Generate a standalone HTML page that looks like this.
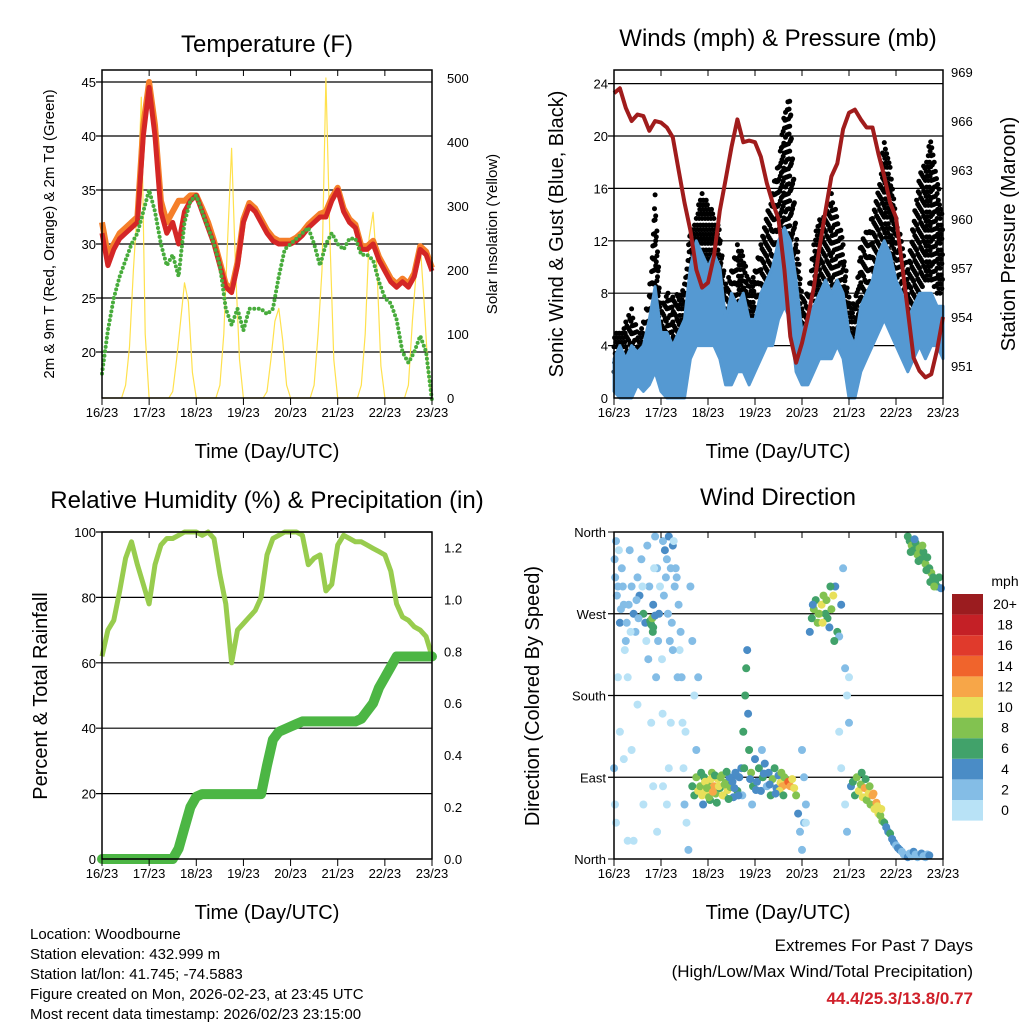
<!DOCTYPE html>
<html><head><meta charset="utf-8">
<style>
html,body{margin:0;padding:0;background:#fff;}
svg{display:block;font-family:"Liberation Sans",sans-serif;}
</style></head>
<body>
<svg id="chart" width="1024" height="1024" viewBox="0 0 1024 1024" xmlns="http://www.w3.org/2000/svg">
<rect width="1024" height="1024" fill="#fff"/>
<text x="267" y="52" font-size="24" text-anchor="middle">Temperature (F)</text>
<text x="778" y="46" font-size="24" text-anchor="middle">Winds (mph) &amp; Pressure (mb)</text>
<text x="267" y="508" font-size="24" text-anchor="middle">Relative Humidity (%) &amp; Precipitation (in)</text>
<text x="778" y="505" font-size="24" text-anchor="middle">Wind Direction</text>
<text x="267" y="458" font-size="20" text-anchor="middle">Time (Day/UTC)</text>
<text x="778" y="458" font-size="20" text-anchor="middle">Time (Day/UTC)</text>
<text x="267" y="919" font-size="20" text-anchor="middle">Time (Day/UTC)</text>
<text x="778" y="919" font-size="20" text-anchor="middle">Time (Day/UTC)</text>
<text transform="translate(54,234) rotate(-90)" font-size="15" text-anchor="middle">2m &amp; 9m T (Red, Orange) &amp; 2m Td (Green)</text>
<text transform="translate(497,234) rotate(-90)" font-size="15" text-anchor="middle">Solar Insolation (Yellow)</text>
<text transform="translate(563,234) rotate(-90)" font-size="20" text-anchor="middle">Sonic Wind &amp; Gust (Blue, Black)</text>
<text transform="translate(1015,234) rotate(-90)" font-size="20" text-anchor="middle">Station Pressure (Maroon)</text>
<text transform="translate(47,696) rotate(-90)" font-size="20" text-anchor="middle">Percent &amp; Total Rainfall</text>
<text transform="translate(539,696) rotate(-90)" font-size="20" text-anchor="middle">Direction (Colored By Speed)</text>
<g font-size="15">
<text x="30" y="939">Location: Woodbourne</text>
<text x="30" y="959">Station elevation: 432.999 m</text>
<text x="30" y="979">Station lat/lon: 41.745; -74.5883</text>
<text x="30" y="999">Figure created on Mon, 2026-02-23, at 23:45 UTC</text>
<text x="30" y="1019">Most recent data timestamp: 2026/02/23 23:15:00</text>
</g>
<text x="973" y="951" font-size="17" text-anchor="end">Extremes For Past 7 Days</text>
<text x="973" y="977" font-size="17" text-anchor="end">(High/Low/Max Wind/Total Precipitation)</text>
<text x="973" y="1004" font-size="17" font-weight="bold" fill="#d0202a" text-anchor="end">44.4/25.3/13.8/0.77</text>
<g id="layer"></g>
</svg>
<script>
const dayLabels=["16/23","17/23","18/23","19/23","20/23","21/23","22/23","23/23"];
const tempRed=[31,28,29.5,30.5,31,31.5,32,40, 44.5,40,33,31,32,30,33,34, 34.5,33,31.5,30,28,26,25.5,28, 32,33.5,33,32,31,30.3,30,30, 30,30.3,30.8,31.5,32,32.5,32.5,34, 35,33,32,31.5,29.5,29.5,30,28.5, 27.5,26.5,26,26.5,26,27,29.5,29, 27.5];
const tempOrange=[32,29,30,31,31.5,32,32.5,41, 45,41,34,32,33,34,34,34.5, 34.5,33.3,32,30.3,28.3,26.3,25.8,28.3, 32.3,33.8,33.3,32.3,31.3,30.6,30.3,30.3, 30.3,30.6,31.1,31.8,32.3,32.8,33,34.3, 35.2,33.3,32.3,31.8,29.8,29.8,30.3,28.8, 27.8,26.8,26.3,26.8,26.3,27.3,29.8,29.3, 27.8];
const dewGreen=[18,22,25,27,28.5,30,31,33, 35,33,30,28,29,27,32,34, 34.5,33,31.5,30,28,24,22.5,24, 22,24,24,24,23.5,24,27,29.5, 30,30.5,31,31.5,30,28,30,31, 30,29.5,30.5,30.5,29,29,28.5,26.5, 25,24.5,23,20,19,20,21.5,20, 15.5];
const solar=[0,0,0,0,0,0,20,80,200,300,470,100, 0,0,0,0,0,0,10,60,120,180,150,40, 0,0,0,0,0,0,20,100,250,390,200,60, 0,0,0,0,0,0,10,60,120,140,90,20, 0,0,0,0,0,0,20,100,200,500,250,60, 0,0,0,0,0,0,20,100,250,290,200,50, 0,0,0,0,0,0,20,120,200,240,150,40, 0];
const windLow=[0.5,0,0,0,1,0.5,1,2, 0.5,0,0,0,0,3,4,4, 4,4,3,1,1,2,2,1, 2,3,4,4,6,7,6,2, 1,1,2,3,3,3,4,3, 0,0,2,3,4,5,6,5, 4,3,2,3,4,3,4,4, 3];
const windHigh=[3,4,3,4,3.5,4,6,8.5, 5,5,4,5,6,10,12,11, 10,11,10,6,8,7,8,6, 6,8,9,10,12,13,12,9, 5,6,7,8,9,8,9,8, 5,4,7,8,9,11,12,11, 9,8,6,7,8,8,8,7, 7];
const gustLow=[2,2,2,3,2,2,4,6, 2,3,2,3,3,8,8,8, 8,8,8,3,4,6,6,4, 4,6,7,8,10,13,12,6, 3,4,6,6,7,8,7,6, 2,2,5,6,8,9,10,10, 8,7,6,7,8,9,9,8, 8];
const gustHigh=[5,5,6,7,5,6,8,16, 7,8,8,8,9,13,14,16, 15,14,13,9,10,12,11,9, 10,12,14,16,18,22,23,13, 8,8,12,14,14,16,14,12, 8,7,12,13,14,16,20,18, 14,12,10,14,17,18,20,17, 14];
const pressure=[967.7,968,966.8,966,966.4,966.3,965.4,966, 965.9,965.6,965,963,961,959.3,956.9,955.8, 956.1,957.7,960.5,962.4,964.4,966.1,964.7,964.8, 964.7,963.8,962.2,961,960,956.9,952.8,951.2, 952.4,954,955.8,958.3,960.5,962.6,963.4,965.5, 966.5,966.7,966.1,965.6,965.6,964,962.6,961, 960.1,957.3,954.4,951.5,950.7,950.3,950.5,952, 954];
const humidity=[62,70,73,82,92,97,90,84, 78,90,96,98,98,99,100,100, 100,99,100,98,87,78,60,70, 72,74,76,80,93,98,99,100, 100,100,99,90,92,93,82,84, 96,99,98,97,97,96,95,94, 93,88,78,74,73,71,70,68, 62];
const precip=[0,0,0,0,0,0,0,0, 0,0,0,0,0,0.04,0.12,0.2, 0.24,0.25,0.25,0.25,0.25,0.25,0.25,0.25, 0.25,0.25,0.25,0.25,0.36,0.46,0.49,0.5, 0.51,0.52,0.53,0.53,0.53,0.53,0.53,0.53, 0.53,0.53,0.53,0.53,0.54,0.57,0.6,0.66, 0.7,0.74,0.78,0.78,0.78,0.78,0.78,0.78, 0.78];
const dirHour=[1,2,3,4,5,6,7,8,9,10,11,12,13,14,15,16,17,18,19,20,21,22,23,0,1,2,0.5,9,10, 18.5,19,19.5,20,21,19.8,
25,26,27,28,29,30,31,32,33,34,34.5,35,35.5,36,24.5,24.8,25,37,38,39,40,41,42,43,
40,41,42,43,44,45,46,47,48,49,50,51,52,53,54,55,56,57,58,59,60,61,62,63,44.5,45.5,46.5,47.5,48.5,49.5,50.5,51.5,52.5,53.5,54.5,55.5,56.5,57.5,58.5,59.5,
64,65,66,67,67.5,68,68.5,69,70,71,72,73,74,75,76,77,78,79,80,81,82,83,84,85,86,87,84.5,85.5,86.5,65.5,70.5,75.5,
88,89,90,91,92,93,94,95,96,97,98,
100,101,102,103,104,105,106,107,108,109,110,111,112,113,114,115,116,117,118,119,120,104.5,106.5,108.5,110.5,112.5,101.5,
121,122,123,124,125,126,127,128,129,130,131,132,133,134,135,136,137,138,139,140,141,142,143,144,145,126.5,128.5,130.5,132.5,134.5,136.5,
146,147,148,149,150,151,152,153,154,155,156,157,158,159,160,161,
150,151,152,153,154,155,156,157,158,159,160,161,162,163,164,165,166,167,151.5,153.5,155.5,157.5,159.5,161.5,163.5,
0.3,0.6,1.5,2.5,3.5,4.5,5.5,6.5,7.5,8.5,11.5,12.5,14.5,16.5,17.5,20.5,22.5,23.5,21.5,25.5,26.5,27.5,28.5,29.5,30.5,31.5,32.5,33.5,36.5,30,29,28,27,3,5,7,12,15,20,22,
96,97,98,115,116,118,119,120,60.5,61.5,62.5,63.5,66.5,69.5,72.5,76.5,79.5,82.5];
const dirDeg=[350,300,260,320,280,240,200,340,300,270,250,310,290,330,270,260,345,300,150,280,355,320,270,100,40,200,60,120,20, 262,258,265,255,268,250,
350,340,330,355,320,345,300,310,280,250,200,150,100,60,220,160,80,40,10,300,240,180,120,200,
80,70,90,75,80,70,90,75,85,65,95,80,72,88,78,92,70,84,76,90,82,68,95,75,95,60,85,78,68,88,74,92,62,80,90,70,82,96,66,79,
90,100,140,180,210,230,160,120,95,80,110,85,100,75,90,105,80,95,70,88,100,78,92,84,80,90,75,95,70,70,60,120,
82,85,80,88,78,70,50,30,10,40,60,
250,265,275,285,260,270,280,290,270,265,255,275,290,300,250,245,280,320,210,180,150,270,260,285,300,240,280,
80,85,70,90,75,82,68,78,65,72,60,70,55,62,50,48,42,40,35,30,28,22,18,15,12,95,88,80,72,58,55,
10,8,5,4,2,6,3,8,5,2,4,6,3,2,5,4,
355,350,345,340,348,335,342,330,338,325,332,320,315,310,305,300,310,298,338,352,328,345,318,305,300,
330,310,290,340,275,300,230,260,280,250,285,265,300,240,220,320,240,300,200,290,310,270,240,260,350,320,200,230,140,230,150,100,60,140,110,20,170,60,80,30,
120,90,40,140,100,60,30,200,85,78,92,70,100,88,76,94,82,72];
const dirSpd=[2,3,4,2,3,2,1,3,2,4,3,2,5,3,6,4,3,2,1,4,2,3,5,2,1,1,0,1,1, 7,6,8,6,5,6,
3,4,3,5,2,4,3,2,3,2,2,1,1,2,1,1,1,1,2,3,2,1,2,3,
6,7,8,10,8,10,7,11,9,6,8,12,9,10,7,8,6,9,11,5,7,4,5,6,6,5,11,9,8,10,12,7,6,11,9,10,8,6,7,9,
4,5,6,7,6,4,5,7,8,6,5,4,6,5,7,4,3,5,6,8,7,4,5,10,12,9,11,8,6,3,3,3,
12,14,13,11,10,8,4,3,2,3,2,
5,7,8,6,9,10,11,8,7,6,4,9,10,5,6,3,4,2,2,1,2,9,10,8,6,7,5,
5,6,7,8,10,9,11,12,8,10,9,13,11,12,10,9,8,6,5,4,6,4,5,3,4,6,7,9,12,11,10,
4,3,2,3,4,3,2,4,3,2,3,4,3,2,3,4,
6,7,8,6,7,9,8,7,6,8,7,6,8,7,6,7,6,5,6,5,7,9,6,7,8,
3,3,2,1,3,2,1,3,2,1,3,2,1,1,2,1,2,1,2,3,2,2,3,2,1,2,2,1,1,2,1,1,1,1,1,1,1,1,1,1,
2,2,1,1,1,1,2,1,4,5,4,5,7,5,4,5,4,5];
const speedBins=["0","2","4","6","8","10","12","14","16","18","20+"];
const speedColors=["#b8e2f6","#84bde6","#4a8cc6","#41a26a","#82c250","#e8e05a","#f7a648","#f0642c","#e03a2c","#c42026","#9b1c1f"];

const NS="http://www.w3.org/2000/svg";
const layer=document.getElementById('layer');
function mk(tag,attrs,parent){const e=document.createElementNS(NS,tag);for(const k in attrs)e.setAttribute(k,attrs[k]);(parent||layer).appendChild(e);return e;}
function txt(x,y,s,size,anchor,parent){const t=mk('text',{x:x,y:y,'font-size':size,'text-anchor':anchor},parent);t.textContent=s;return t;}
function pathFrom(vals,fx,fy){return vals.map((v,i)=>(i?'L':'M')+fx(i).toFixed(1)+' '+fy(v).toFixed(1)).join(' ');}
function bandFrom(lo,hi,fx,fy){let d=lo.map((v,i)=>(i?'L':'M')+fx(i).toFixed(1)+' '+fy(v).toFixed(1)).join(' ');for(let i=hi.length-1;i>=0;i--)d+=' L'+fx(i).toFixed(1)+' '+fy(hi[i]).toFixed(1);return d+' Z';}

const P1={x0:102,x1:432,y0:70,y1:398};
const P2={x0:614,x1:943,y0:70,y1:398};
const P3={x0:102,x1:432,y0:532,y1:859};
const P4={x0:614,x1:943,y0:532,y1:859};
const hx=(P,h)=>P.x0+h/168*(P.x1-P.x0);

function xAxis(P,name){
  const g=mk('g',{});
  
  
  dayLabels.forEach((s,i)=>{
    const x=hx(P,i*24);
    const tk=mk('line',{x1:x,x2:x,y1:P.y1,y2:P.y1+7,stroke:'#000','stroke-width':1},g);
    
    
    const tt=mk('line',{x1:x,x2:x,y1:P.y0,y2:P.y0+6,stroke:'#000','stroke-width':1},g);
    
    
    const t=txt(x,P.y1+19,s,13,'middle',g);
    
    
  });
}
function frame(P,name){
  const r=mk('rect',{x:P.x0,y:P.y0,width:P.x1-P.x0,height:P.y1-P.y0,fill:'none',stroke:'#000','stroke-width':1.5});
  
  
}
function grid(P,ys){ys.forEach(y=>{const l=mk('line',{x1:P.x0-6,x2:P.x1,y1:y,y2:y,stroke:'#000','stroke-width':1.2});
  
  });}
function yLabels(x,ys,labels,anchor,name){ys.forEach((y,i)=>{const t=txt(x,y+5,labels[i],13,anchor);
  
  });}

// Panel 1
const yT=v=>352-(v-20)*10.8, ySol=v=>398-v*0.64;
const tTicks=[20,25,30,35,40,45], sTicks=[0,100,200,300,400,500];
grid(P1,tTicks.map(yT));
const x3=(P)=>i=>hx(P,i*3), x2=(P)=>i=>hx(P,i*2);
let e=mk('path',{d:pathFrom(solar,x2(P1),ySol),fill:'none',stroke:'#ffe14d','stroke-width':1.2,'stroke-linejoin':'round'});


e=mk('path',{d:pathFrom(tempOrange,x3(P1),yT),fill:'none',stroke:'#f57f2a','stroke-width':6,'stroke-linejoin':'round'});


e=mk('path',{d:pathFrom(tempRed,x3(P1),yT),fill:'none',stroke:'#d42626','stroke-width':5,'stroke-linejoin':'round'});


e=mk('path',{d:pathFrom(dewGreen,x3(P1),yT),fill:'none',stroke:'#48ac3c','stroke-width':4,'stroke-dasharray':'0 4.5','stroke-linecap':'round','stroke-linejoin':'round'});


frame(P1,'temperature-plot-frame');
xAxis(P1,'temperature-x-axis');
yLabels(P1.x0-6,tTicks.map(yT),tTicks.map(String),'end','temp-y-tick-label');
yLabels(P1.x1+15,sTicks.map(ySol),sTicks.map(String),'start','solar-y-tick-label');

// Panel 2
const yW=v=>398-v*13.1, yP=p=>72+(969-p)*49/3;
const wTicks=[0,4,8,12,16,20,24], pTicks=[951,954,957,960,963,966,969];
grid(P2,wTicks.slice(1).map(yW));
const gg=mk('g',{fill:'#000'});


gustLow.forEach((lo,i)=>{
  if(i===gustLow.length-1)return;
  for(let k=0;k<10;k++){
    const f=k/10;
    const l=lo+(gustLow[i+1]-lo)*f, h=gustHigh[i]+(gustHigh[i+1]-gustHigh[i])*f;
    const x=hx(P2,(i+f)*3);
    for(let v=l+((k*7)%5)*0.35,j=0;v<=h;v+=1.9,j++){
      const c=mk('circle',{cx:x.toFixed(1),cy:yW(v).toFixed(1),r:2.5},gg);
      
      
    }
  }
});
e=mk('path',{d:bandFrom(windLow,windHigh,x3(P2),yW),fill:'#5599d2',stroke:'#5599d2','stroke-width':3,'stroke-linejoin':'round'});


e=mk('path',{d:pathFrom(pressure,x3(P2),yP),fill:'none',stroke:'#a01c1c','stroke-width':4,'stroke-linejoin':'round'});


frame(P2,'winds-plot-frame');
xAxis(P2,'winds-x-axis');
yLabels(P2.x0-6,wTicks.map(yW),wTicks.map(String),'end','wind-y-tick-label');
yLabels(P2.x1+8,pTicks.map(yP),pTicks.map(String),'start','pressure-y-tick-label');

// Panel 3
const yRH=v=>859-v*3.27, yPr=v=>859-v*259.6;
const rTicks=[0,20,40,60,80,100], prTicks=[0,0.2,0.4,0.6,0.8,1.0,1.2];
grid(P3,rTicks.slice(1).map(yRH));
e=mk('path',{d:pathFrom(humidity,x3(P3),yRH),fill:'none',stroke:'#98cc4e','stroke-width':5,'stroke-linejoin':'round'});


e=mk('path',{d:pathFrom(precip,x3(P3),yPr),fill:'none',stroke:'#4cb644','stroke-width':10,'stroke-linejoin':'round','stroke-linecap':'round'});


frame(P3,'humidity-plot-frame');
xAxis(P3,'humidity-x-axis');
yLabels(P3.x0-6,rTicks.map(yRH),rTicks.map(String),'end','humidity-y-tick-label');
yLabels(P3.x1+12,prTicks.map(yPr),prTicks.map(v=>v.toFixed(1)),'start','precip-y-tick-label');

// Panel 4
const yD=d=>859-d/360*327;
const dTicks=[0,90,180,270,360], dLabels=["North","East","South","West","North"];
grid(P4,dTicks.slice(1,4).map(yD));
const sg=mk('g',{});


dirHour.forEach((h,i)=>{
  const bin=Math.min(10,Math.floor(dirSpd[i]/2));
  const c=mk('circle',{cx:hx(P4,h).toFixed(1),cy:yD(dirDeg[i]).toFixed(1),r:4,fill:speedColors[bin]},sg);
  
  
});
const fr=mk('rect',{x:P4.x0,y:P4.y0,width:P4.x1-P4.x0,height:P4.y1-P4.y0,fill:'none',stroke:'#000','stroke-width':1.5});


[P4.y0,P4.y1].forEach(y=>{const l=mk('line',{x1:P4.x0-6,x2:P4.x0,y1:y,y2:y,stroke:'#000'});
  
  });
xAxis(P4,'direction-x-axis');
yLabels(P4.x0-8,dTicks.map(yD),dLabels,'end','direction-y-tick-label');

const cb=mk('g',{});


const ct=txt(1005,586,'mph',14,'middle',cb);


speedBins.forEach((s,i)=>{
  const y=800-i*20.6;
  const r=mk('rect',{x:952,y:y,width:31,height:20.6,fill:speedColors[i]},cb);
  
  
  const t=txt(1005,y+15,s,14,'middle',cb);
  
  
});
</script>
</body></html>
